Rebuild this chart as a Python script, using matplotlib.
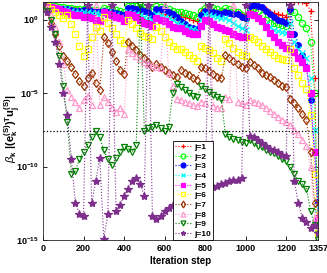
import numpy as np
import matplotlib
matplotlib.use("Agg")
import matplotlib.pyplot as plt
from matplotlib.ticker import NullLocator

plt.rcParams["font.family"] = ["Liberation Sans", "DejaVu Sans"]
plt.rcParams["mathtext.fontset"] = "custom"
plt.rcParams["mathtext.rm"] = "Liberation Sans"
plt.rcParams["mathtext.bf"] = "Liberation Sans:bold"
plt.rcParams["mathtext.it"] = "Liberation Sans:italic"

# iteration steps at which values were read (every 20 steps + last)
steps = list(range(0, 1341, 20)) + [1357]

# log10 of beta_k |(e_k)^T u_j|, per Ritz vector j
log_j1 = [1.0,0.95,0.9,0.85,0.8,0.8,0.75,
          0.7,0.7,0.65,0.6,0.6,0.55,0.5,0.5,
          0.6,0.5,0.45,0.4,0.3,0.2,
          0.6,0.4,0.2,0.1,0.0,-0.05,-0.1,
          0.6,0.5,0.4,0.3,0.2,0.1,
          0.3,0.2,0.1,0.0,-0.1,
          0.5,0.7,0.65,0.6,0.55,0.5,
          0.6,0.55,0.5,0.45,0.4,0.3,
          0.8,0.9,0.85,0.8,0.7,0.55,0.45,0.35,0.3,0.2,
          1.2,1.3,1.3,1.25,1.1,0.6,-4.0,
          -14.6]
log_j2 = [1.0,1.0,0.95,0.9,0.85,0.85,0.8,
          0.8,0.75,0.75,0.7,0.7,0.65,0.65,0.6,
          0.8,0.75,0.7,0.65,0.6,0.5,
          0.9,0.95,0.9,0.85,0.8,0.75,0.7,
          0.9,0.85,0.8,0.7,0.6,0.5,
          0.5,0.45,0.35,0.3,0.2,
          0.6,0.8,0.85,0.8,0.7,0.6,
          0.8,0.7,0.6,0.5,0.3,0.1,
          0.7,0.8,0.6,0.3,0.0,-0.2,-0.25,-0.3,-0.35,-0.4,
          0.6,0.5,0.2,-0.2,-0.6,-1.5,-5.0,
          -14.0]
log_j3 = [1.0,0.9,0.8,0.8,0.7,0.7,
          0.7,0.65,0.6,0.6,0.65,0.7,0.6,0.6,0.55,
          0.6,0.55,0.5,0.45,0.4,0.3,
          0.8,0.8,0.75,0.7,0.6,0.5,0.3,
          0.7,0.7,0.65,0.55,0.4,0.2,
          -0.1,-0.3,-0.5,-0.6,-0.65,
          0.3,0.6,0.55,0.5,0.45,0.35,
          0.5,0.45,0.4,0.35,0.2,0.1,
          0.9,1.0,0.95,0.85,0.6,0.4,0.2,0.0,-0.1,-0.2,
          0.7,-1.0,-1.7,-2.4,-3.2,-5.5,-9.0,
          -12.4]
log_j4 = [1.0,0.95,0.9,0.8,0.8,0.75,0.7,
          0.6,0.55,0.55,0.5,0.5,0.45,0.45,0.4,
          0.6,0.5,0.4,0.3,0.2,0.1,
          0.5,0.45,0.4,0.3,0.2,0.1,0.0,
          0.4,0.3,0.2,0.1,0.0,-0.2,
          -0.3,-0.4,-0.55,-0.65,-0.7,
          0.0,0.35,0.3,0.25,0.2,0.1,
          0.1,0.0,-0.2,-0.4,-0.6,-0.7,
          0.4,0.3,0.1,-0.1,-0.3,-0.5,-0.7,-0.8,-0.85,-0.9,
          -0.2,-1.5,-2.0,-2.3,-2.6,-4.0,-7.5,
          -12.8]
log_j5 = [1.0,0.95,0.85,0.8,0.7,0.6,0.5,
          0.4,0.3,0.3,0.2,0.2,0.1,0.0,-0.1,
          0.5,0.4,0.3,0.2,0.1,-0.1,
          0.4,0.3,0.2,0.0,-0.2,-0.3,-0.4,
          0.1,0.0,-0.1,-0.3,-0.5,-0.6,
          -0.6,-0.8,-0.9,-1.0,-1.0,
          -0.4,0.0,-0.1,-0.3,-0.5,-0.6,
          -0.7,-0.8,-1.0,-1.1,-1.2,-1.2,
          0.4,0.3,0.1,-0.1,-0.5,-0.9,-1.2,-1.5,-1.7,-1.9,
          -1.0,-2.2,-2.6,-2.9,-3.3,-5.0,-9.0,
          -13.5]
log_j6 = [1.0,0.9,0.7,0.5,0.3,0.1,0.3,
          -0.3,-1.0,-1.8,-2.5,-2.0,-1.2,-0.5,-0.8,
          0.2,-0.2,-0.6,-1.0,-1.4,-1.6,
          0.0,-0.3,-0.6,-0.9,-1.1,-1.2,-1.3,
          -0.5,-0.8,-1.2,-1.5,-1.8,-2.0,
          -2.0,-2.2,-2.4,-2.6,-2.8,
          -1.8,-1.9,-2.1,-2.3,-2.6,-2.8,
          -1.3,-1.6,-1.9,-2.2,-2.4,-2.5,
          -1.2,-1.3,-1.5,-1.8,-2.0,-2.2,-2.4,-2.6,-2.7,-2.75,
          -2.0,-3.3,-3.8,-4.3,-4.7,-6.5,-10.5,
          -14.5]
log_j7 = [1.0,0.6,-0.2,-1.0,-1.8,-2.5,-2.8,
          -3.2,-3.7,-4.2,-4.5,-4.0,-3.6,-4.3,-4.8,
          -1.2,-1.6,-2.2,-2.8,-3.4,-3.7,
          -1.5,-1.8,-2.1,-2.4,-2.6,-2.9,-3.2,
          -3.0,-3.2,-3.4,-3.6,-3.8,-3.9,
          -3.4,-3.6,-3.8,-4.0,-4.1,
          -3.2,-3.3,-3.5,-3.7,-3.9,-4.0,
          -2.4,-2.6,-2.8,-3.0,-3.2,-3.3,
          -2.9,-3.1,-3.3,-3.6,-3.8,-3.9,-4.1,-4.3,-4.5,-4.6,
          -5.4,-5.7,-6.0,-6.4,-6.8,-9.0,-12.5,
          -14.0]
log_j8 = [1.0,0.8,0.3,-0.5,-1.5,-3.0,-4.8,
          -5.3,-5.6,-6.0,-5.5,-5.2,-5.8,1.0,-5.8,
          -5.3,-5.6,-6.0,-6.3,-6.0,-6.4,
          -2.0,-2.3,-2.5,-2.7,-2.9,-3.0,-3.1,
          -3.2,-3.3,1.0,-3.6,-4.5,
          -5.4,-5.5,-5.6,-5.7,-5.8,-5.9,
          -5.6,-5.7,1.0,-5.9,-6.0,-6.0,
          -5.3,-5.4,1.0,-5.6,-5.7,-5.8,
          -5.5,-5.6,-5.7,-5.8,-6.0,-6.2,-6.4,-6.6,-6.8,-7.0,
          -7.2,-7.5,-7.8,-8.2,-8.6,-10.0,-13.5,
          -14.8]
log_j9 = [1.0,0.6,0.0,-1.0,-2.5,-4.5,-7.0,
          -10.5,-10.3,-9.5,-9.0,-8.5,-8.0,-7.6,-8.0,
          -8.9,-9.5,-9.9,-9.4,-9.0,-8.7,
          -8.8,-9.0,-8.5,1.0,-7.6,-7.4,-7.3,
          -7.2,-7.4,-7.6,-7.3,-5.0,
          -4.4,-4.6,-4.8,-5.0,-5.2,-5.3,
          -4.5,-4.7,-4.9,-5.1,-5.3,-5.4,
          -7.8,-8.0,-8.1,-8.2,-8.3,-8.4,
          -8.2,-8.4,-8.6,-8.7,-8.9,-9.0,-9.1,-9.3,-9.5,-9.6,
          -10.0,-10.5,-11.0,-11.2,-11.5,-13.0,-14.0,
          -15.0]
log_j10 = [1.1,0.5,-0.5,-1.5,-3.0,-5.0,-6.5,
           -9.5,-12.5,-13.2,-13.4,1.0,-12.5,-11.0,-9.4,
           -14.9,-13.2,1.0,-13.0,-12.6,-12.0,
           -11.5,-11.0,-10.8,-11.2,-12.0,1.0,-13.4,
           -13.6,-13.4,-13.0,-12.8,-12.6,-12.4,
           -12.3,-12.2,-12.0,-11.9,-11.8,
           -11.7,-11.6,1.0,-11.4,-11.3,-11.2,
           -11.1,-11.0,-10.9,-10.9,-10.8,1.0,
           -7.9,-8.0,-8.2,-8.4,-8.6,-8.8,-8.9,-9.0,-9.2,-9.3,
           1.0,-11.0,-12.5,-13.5,-13.8,-14.2,-14.0,
           -14.5]

series = [log_j1, log_j2, log_j3, log_j4, log_j5,
          log_j6, log_j7, log_j8, log_j9, log_j10]
labels = ["j=%d" % i for i in range(1, 11)]
threshold = 2.5e-8
xticks = [0, 200, 400, 600, 800, 1000, 1200, 1357]

colors = ["#ff0000", "#00ff00", "#0000ff", "#00ffff", "#ff00ff",
          "#ffff00", "#993300", "#ff99cc", "#008000", "#7e2f8e"]
markers = ["+", "o", "o", "x", "s", "s", "d", "^", "v", "*"]
filled = [True, False, True, True, True, False, False, False, False, True]
msizes = [5, 4.5, 4, 4.5, 4, 4.5, 4.5, 5, 5, 6]

fig = plt.figure(figsize=(3.27, 2.73), dpi=100)
ax = fig.add_axes([43/327, 33/273, 275/327, 238/273])

for vals, c, m, f, ms, lab in zip(series, colors, markers, filled, msizes, labels):
    y = 10.0 ** np.array(vals)
    ax.plot(steps, y, linestyle=":", linewidth=0.8, color=c, marker=m,
            markersize=ms, markeredgewidth=0.9,
            markerfacecolor=(c if f else "none"), markeredgecolor=c,
            label=lab)

ax.axhline(threshold, color="black", linestyle=":", linewidth=0.9)

ax.set_yscale("log")
ax.set_xlim(0, 1357)
ax.set_ylim(1e-15, 10**1.2)
ax.set_yticks([1e0, 1e-5, 1e-10, 1e-15])
ax.set_yticklabels([r"$\mathbf{10^{0}}$", r"$\mathbf{10^{-5}}$",
                    r"$\mathbf{10^{-10}}$", r"$\mathbf{10^{-15}}$"])
ax.yaxis.set_minor_locator(NullLocator())
ax.set_xticks(xticks)
ax.set_xticklabels([str(t) for t in xticks], fontweight="bold")
ax.tick_params(direction="in", length=3, width=0.6, labelsize=6.5,
               top=True, right=True, pad=3)
for s in ax.spines.values():
    s.set_linewidth(0.6)
    s.set_color("#262626")

ax.set_xlabel("Iteration step", fontsize=7, fontweight="bold", labelpad=2)
ax.set_ylabel(r"$\beta_{\mathbf{k}}\ \mathbf{|(e_k^{(S)})^T u_j^{(S)}|}$",
              fontsize=8)
ax.yaxis.set_label_coords(-0.072, 0.47)

leg = ax.legend(loc="lower left", bbox_to_anchor=(0.473, 0.0),
                prop={"weight": "bold", "size": 6}, frameon=True,
                fancybox=False, framealpha=1, edgecolor="black",
                borderpad=0.25, labelspacing=0.22, handlelength=2.0,
                handletextpad=0.3, borderaxespad=0.0)
leg.get_frame().set_linewidth(0.6)
for h in leg.legend_handles:
    h.set_markersize(3.5)

fig.savefig("out.png", dpi=100)
